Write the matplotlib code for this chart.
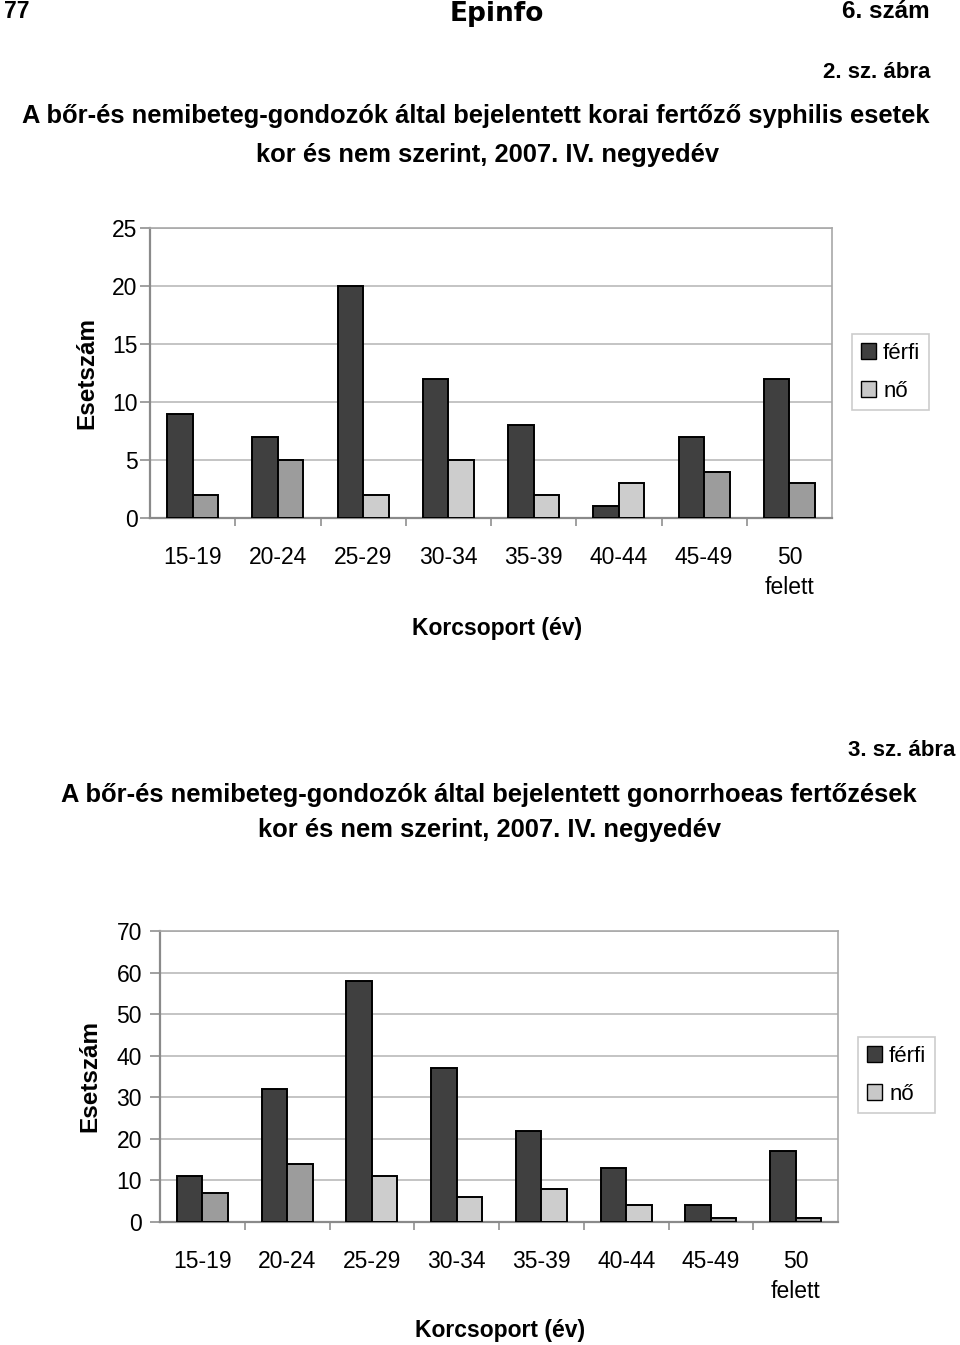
import matplotlib
matplotlib.use("Agg")
import matplotlib.pyplot as plt
from matplotlib.patches import Patch
import numpy as np

plt.rcParams['font.family'] = ['Liberation Sans', 'DejaVu Sans']

# ---- data ----
age_groups = ["15-19", "20-24", "25-29", "30-34", "35-39", "40-44", "45-49", "50\nfelett"]
syph_ferfi = [9, 7, 20, 12, 8, 1, 7, 12]
syph_no = [2, 5, 2, 5, 2, 3, 4, 3]
gon_ferfi = [11, 32, 58, 37, 22, 13, 4, 17]
gon_no = [7, 14, 11, 6, 8, 4, 1, 1]
series_labels = ["férfi", "nő"]
syph_yticks = [0, 5, 10, 15, 20, 25]
gon_yticks = [0, 10, 20, 30, 40, 50, 60, 70]

# styles
MEN = "#404040"
NO_DARK = "#9c9c9c"
NO_LIGHT = "#cdcdcd"
no_colors = [NO_DARK, NO_DARK, NO_LIGHT, NO_LIGHT, NO_LIGHT, NO_LIGHT, NO_DARK, NO_DARK]

W, H = 960, 1345
fig = plt.figure(figsize=(W / 100, H / 100), dpi=100)


def fx(px):
    return px / W


def fy(py):
    return 1 - py / H


def draw(ax, men, women, yticks, legend_xy, ypad):
    x = np.arange(len(age_groups))
    bw = 0.3
    ax.bar(x - bw / 2, men, bw, color=MEN, edgecolor="black", linewidth=1.4, zorder=3)
    ax.bar(x + bw / 2, women, bw, color=no_colors, edgecolor="black", linewidth=1.4, zorder=3)
    ax.set_xlim(-0.5, len(age_groups) - 0.5)
    ax.set_ylim(yticks[0], yticks[-1])
    ax.set_yticks(yticks)
    ax.set_yticklabels([str(v) for v in yticks], fontsize=16.5)
    ax.yaxis.grid(True, color="#b4b4b4", linewidth=1.1, zorder=0)
    ax.set_axisbelow(True)
    ax.set_xticks(x)
    ax.set_xticklabels(age_groups, fontsize=16.5, linespacing=1.4)
    ax.set_xticks(np.arange(0.5, len(age_groups) - 0.5, 1), minor=True)
    ax.tick_params(axis="x", which="major", length=0, pad=20)
    ax.tick_params(axis="x", which="minor", length=6, color="#909090", width=1.2, direction="out")
    ax.tick_params(axis="y", length=7, color="#909090", width=1.2, direction="out", pad=ypad)
    for s in ["left", "bottom"]:
        ax.spines[s].set_color("#8a8a8a")
        ax.spines[s].set_linewidth(1.6)
    for s in ["top", "right"]:
        ax.spines[s].set_color("#a8a8a8")
        ax.spines[s].set_linewidth(1.2)
    handles = [Patch(facecolor=MEN, edgecolor="black", linewidth=1.0),
               Patch(facecolor="#c8c8c8", edgecolor="black", linewidth=1.0)]
    leg = ax.legend(handles, series_labels, loc="upper left",
                    bbox_to_anchor=(fx(legend_xy[0]), fy(legend_xy[1])),
                    bbox_transform=fig.transFigure, borderaxespad=0,
                    fancybox=False, fontsize=16, handlelength=0.7, handleheight=0.7,
                    handletextpad=0.3, labelspacing=0.75, borderpad=0.4, frameon=True)
    leg.get_frame().set_edgecolor("#c0c0c0")
    leg.get_frame().set_linewidth(1.2)


TS = 18.4

# header
fig.text(fx(4), fy(12), "77", fontsize=16.5, fontweight="bold", ha="left", va="center")
fig.text(fx(497), fy(14), "Epinfo", fontsize=19, fontweight="heavy", ha="center", va="center",
         family=["DejaVu Sans"])
fig.text(fx(930), fy(12), "6. szám", fontsize=17.5, fontweight="bold", ha="right", va="center")

# chart 1
fig.text(fx(930), fy(72), "2. sz. ábra", fontsize=16, fontweight="bold", ha="right", va="center")
fig.text(fx(476), fy(116), "A bőr-és nemibeteg-gondozók által bejelentett korai fertőző syphilis esetek",
         fontsize=TS, fontweight="bold", ha="center", va="center")
fig.text(fx(488), fy(155), "kor és nem szerint, 2007. IV. negyedév",
         fontsize=TS, fontweight="bold", ha="center", va="center")

ax1 = fig.add_axes([fx(150), fy(518), fx(832) - fx(150), (518 - 228) / H])
draw(ax1, syph_ferfi, syph_no, syph_yticks, (852, 334), 2)
fig.text(fx(87), fy(373), "Esetszám", fontsize=17.5, fontweight="bold", rotation=90,
         ha="center", va="center")
fig.text(fx(497), fy(628), "Korcsoport (év)", fontsize=16.5, fontweight="bold", ha="center", va="center")

# chart 2
fig.text(fx(955), fy(750), "3. sz. ábra", fontsize=16, fontweight="bold", ha="right", va="center")
fig.text(fx(489), fy(795), "A bőr-és nemibeteg-gondozók által bejelentett gonorrhoeas fertőzések",
         fontsize=TS, fontweight="bold", ha="center", va="center")
fig.text(fx(489), fy(830), "kor és nem szerint, 2007. IV. negyedév",
         fontsize=TS, fontweight="bold", ha="center", va="center")

ax2 = fig.add_axes([fx(160), fy(1222), fx(838) - fx(160), (1222 - 931) / H])
draw(ax2, gon_ferfi, gon_no, gon_yticks, (858, 1037), 6)
fig.text(fx(90), fy(1076), "Esetszám", fontsize=17.5, fontweight="bold", rotation=90,
         ha="center", va="center")
fig.text(fx(500), fy(1330), "Korcsoport (év)", fontsize=16.5, fontweight="bold", ha="center", va="center")

fig.savefig("out.png", dpi=100)
